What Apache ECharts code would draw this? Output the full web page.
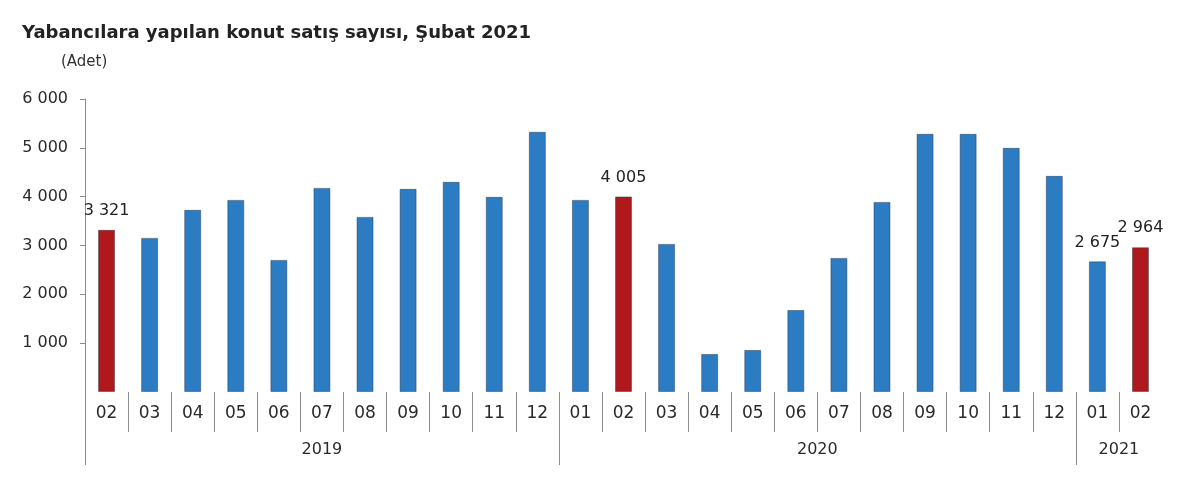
<!DOCTYPE html>
<html>
<head>
<meta charset="utf-8">
<script src="https://cdn.jsdelivr.net/npm/echarts@6/dist/echarts.min.js"></script>
<style>
  html, body { margin: 0; padding: 0; background: #fff; }
  #main { width: 1200px; height: 488px; }
</style>
</head>
<body>
<div id="main"></div>
<script>
// months shown under the bars, Feb 2019 .. Feb 2021
var months = ["02", "03", "04", "05", "06", "07", "08", "09", "10", "11", "12",
  "01", "02", "03", "04", "05", "06", "07", "08", "09", "10", "11", "12",
  "01", "02"]
var sales = [3321, 3156, 3730, 3934, 2705, 4180, 3586, 4160, 4303, 3996, 5328,
  3934, 4005, 3033, 779, 861, 1680, 2746, 3893, 5287, 5287, 5000, 4426,
  2675, 2964]
var years = ["2019", "2020", "2021"]
var yearLengths = [11, 12, 2]
// february bars are red, these ones get a value label
var redBars = [0, 12, 24]
var labelledBars = [0, 12, 23, 24]
var yTicks = [0, 1000, 2000, 3000, 4000, 5000, 6000]

var fmt = function (v) {
  return String(v).replace(/\B(?=(\d{3})+(?!\d))/g, " ")
}

// year group edges and centres on the -0.5 .. n-0.5 scale
var yearEdges = [-0.5]
var yearCentres = []
var pos = -0.5
yearLengths.forEach(function (len) {
  yearCentres.push(pos + len / 2)
  pos += len
  yearEdges.push(pos)
})
yearEdges.pop()

var monthEdges = []
for (var i = 1; i < months.length; i++) {
  if (yearEdges.indexOf(i - 0.5) < 0) monthEdges.push(i - 0.5)
}
var monthCentres = months.map(function (m, i) { return i })

var barData = sales.map(function (v, i) {
  return {
    value: v,
    itemStyle: { color: redBars.indexOf(i) >= 0 ? "#b0191b" : "#2b7cc3" },
    label: { show: labelledBars.indexOf(i) >= 0 }
  }
})

var font = "DejaVu Sans, Verdana, sans-serif"

var chartDom = document.getElementById("main")
var myChart = echarts.init(chartDom)
var option

option = {
  animation: false,
  textStyle: { fontFamily: font },
  title: [
    {
      text: "Yabancılara yapılan konut satış sayısı, Şubat 2021",
      left: 17,
      top: 19,
      textStyle: { fontSize: 18, fontWeight: "bold", color: "#222", fontFamily: font }
    },
    {
      text: "(Adet)",
      left: 56,
      top: 50,
      textStyle: { fontSize: 15, fontWeight: "normal", color: "#333", fontFamily: font }
    }
  ],
  grid: {
    left: 85,
    right: 38,
    top: 99,
    bottom: 96
  },
  xAxis: [
    {
      type: "category",
      data: months,
      boundaryGap: true,
      axisLine: { show: false },
      axisTick: { show: false },
      axisLabel: { show: false }
    },
    {
      type: "value",
      min: -0.5,
      max: months.length - 0.5,
      position: "bottom",
      splitLine: { show: false },
      axisLine: { show: false, onZero: false },
      axisTick: {
        show: true,
        customValues: monthEdges,
        length: 40,
        lineStyle: { color: "#8c8c8c", width: 1 }
      },
      axisLabel: {
        customValues: monthCentres,
        margin: 13,
        fontSize: 17,
        color: "#2a2a2a",
        formatter: function (v) { return months[Math.round(v)] }
      }
    },
    {
      type: "value",
      min: -0.5,
      max: months.length - 0.5,
      position: "bottom",
      splitLine: { show: false },
      axisLine: { show: false, onZero: false },
      axisTick: {
        show: true,
        customValues: yearEdges,
        length: 73,
        lineStyle: { color: "#8c8c8c", width: 1 }
      },
      axisLabel: {
        customValues: yearCentres,
        margin: 50,
        fontSize: 16,
        color: "#2a2a2a",
        formatter: function (v) { return years[yearCentres.indexOf(v)] }
      }
    }
  ],
  yAxis: {
    type: "value",
    min: yTicks[0],
    max: yTicks[yTicks.length - 1],
    interval: 1000,
    splitLine: { show: false },
    axisLine: { show: true, onZero: false, lineStyle: { color: "#8c8c8c" } },
    axisTick: {
      show: true,
      length: 5,
      customValues: yTicks.slice(1),
      lineStyle: { color: "#8c8c8c" }
    },
    axisLabel: {
      fontSize: 16,
      color: "#2a2a2a",
      margin: 17,
      formatter: function (v) { return v === 0 ? "" : fmt(v) }
    }
  },
  series: [
    {
      type: "bar",
      xAxisIndex: 0,
      barWidth: 17,
      data: barData,
      itemStyle: { borderColor: "rgba(40,50,70,0.45)", borderWidth: 1 },
      label: {
        position: "top",
        distance: 11,
        fontSize: 16,
        color: "#222",
        formatter: function (p) { return fmt(p.value) }
      }
    }
  ]
}

option && myChart.setOption(option)
</script>
</body>
</html>
